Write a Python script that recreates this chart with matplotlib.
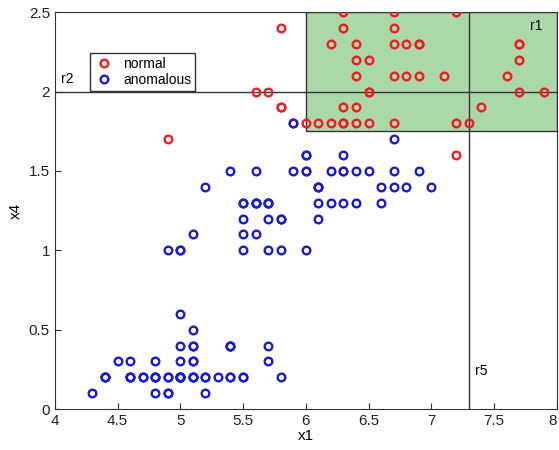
import matplotlib
matplotlib.use("Agg")
import matplotlib.pyplot as plt
from matplotlib.patches import Rectangle

# iris: sepal length (x1) vs petal width (x4)
# normal = virginica
normal_x1 = [6.3, 5.8, 7.1, 6.3, 6.5, 7.6, 4.9, 7.3, 6.7, 7.2, 6.5, 6.4, 6.8, 5.7, 5.8,
             6.4, 6.5, 7.7, 7.7, 6.0, 6.9, 5.6, 7.7, 6.3, 6.7, 7.2, 6.2, 6.1, 6.4, 7.2,
             7.4, 7.9, 6.4, 6.3, 6.1, 7.7, 6.3, 6.4, 6.0, 6.9, 6.7, 6.9, 5.8, 6.8, 6.7,
             6.7, 6.3, 6.5, 6.2, 5.9]
normal_x4 = [2.5, 1.9, 2.1, 1.8, 2.2, 2.1, 1.7, 1.8, 1.8, 2.5, 2.0, 1.9, 2.1, 2.0, 2.4,
             2.3, 1.8, 2.2, 2.3, 1.5, 2.3, 2.0, 2.0, 1.8, 2.1, 1.8, 1.8, 1.8, 2.1, 1.6,
             1.9, 2.0, 2.2, 1.5, 1.4, 2.3, 2.4, 1.8, 1.8, 2.1, 2.4, 2.3, 1.9, 2.3, 2.5,
             2.3, 1.9, 2.0, 2.3, 1.8]

# anomalous = setosa + versicolor
anom_x1 = [5.1, 4.9, 4.7, 4.6, 5.0, 5.4, 4.6, 5.0, 4.4, 4.9, 5.4, 4.8, 4.8, 4.3, 5.8,
           5.7, 5.4, 5.1, 5.7, 5.1, 5.4, 5.1, 4.6, 5.1, 4.8, 5.0, 5.0, 5.2, 5.2, 4.7,
           4.8, 5.4, 5.2, 5.5, 4.9, 5.0, 5.5, 4.9, 4.4, 5.1, 5.0, 4.5, 4.4, 5.0, 5.1,
           4.8, 5.1, 4.6, 5.3, 5.0,
           7.0, 6.4, 6.9, 5.5, 6.5, 5.7, 6.3, 4.9, 6.6, 5.2, 5.0, 5.9, 6.0, 6.1, 5.6,
           6.7, 5.6, 5.8, 6.2, 5.6, 5.9, 6.1, 6.3, 6.1, 6.4, 6.6, 6.8, 6.7, 6.0, 5.7,
           5.5, 5.5, 5.8, 6.0, 5.4, 6.0, 6.7, 6.3, 5.6, 5.5, 5.5, 6.1, 5.8, 5.0, 5.6,
           5.7, 5.7, 6.2, 5.1, 5.7]
anom_x4 = [0.2, 0.2, 0.2, 0.2, 0.2, 0.4, 0.3, 0.2, 0.2, 0.1, 0.2, 0.2, 0.1, 0.1, 0.2,
           0.4, 0.4, 0.3, 0.3, 0.3, 0.2, 0.4, 0.2, 0.5, 0.2, 0.2, 0.4, 0.2, 0.2, 0.2,
           0.2, 0.4, 0.1, 0.2, 0.2, 0.2, 0.2, 0.1, 0.2, 0.2, 0.3, 0.3, 0.2, 0.6, 0.4,
           0.3, 0.2, 0.2, 0.2, 0.2,
           1.4, 1.5, 1.5, 1.3, 1.5, 1.3, 1.6, 1.0, 1.3, 1.4, 1.0, 1.5, 1.0, 1.4, 1.3,
           1.4, 1.5, 1.0, 1.5, 1.1, 1.8, 1.3, 1.5, 1.2, 1.3, 1.4, 1.4, 1.7, 1.5, 1.0,
           1.1, 1.0, 1.2, 1.6, 1.5, 1.6, 1.5, 1.3, 1.3, 1.3, 1.2, 1.4, 1.2, 1.0, 1.3,
           1.2, 1.3, 1.3, 1.1, 1.3]

# rule boundaries
r1_x = (6.0, 8.0)
r1_y = (1.75, 2.5)
r2_y = 2.0
r5_x = 7.3

plt.rcParams['font.family'] = ['Liberation Sans', 'DejaVu Sans']

fig = plt.figure(figsize=(5.59, 4.5), dpi=100)
ax = fig.add_axes([0.098, 0.091, 0.898, 0.882])

ax.add_patch(Rectangle((r1_x[0], r1_y[0]), r1_x[1] - r1_x[0], r1_y[1] - r1_y[0],
                       facecolor='#aad8a9', edgecolor='#333333', lw=1.0, zorder=1))
ax.plot([4, 8], [r2_y, r2_y], color='#333333', lw=1.0, zorder=2)
ax.plot([r5_x, r5_x], [0, 2.5], color='#333333', lw=1.0, zorder=2)

ax.plot(normal_x1, normal_x4, 'o', ls='none', mfc='none', mec='#ee1c24',
        ms=5.5, mew=1.7, label='normal', zorder=3)
ax.plot(anom_x1, anom_x4, 'o', ls='none', mfc='none', mec='#1a1ad0',
        ms=5.5, mew=1.7, label='anomalous', zorder=4)

ax.text(7.79, 2.41, 'r1', fontsize=10, va='center')
ax.text(4.05, 2.08, 'r2', fontsize=10, va='center')
ax.text(7.35, 0.24, 'r5', fontsize=10, va='center')

ax.set_xlim(4, 8)
ax.set_ylim(0, 2.5)
ax.set_xticks([4, 4.5, 5, 5.5, 6, 6.5, 7, 7.5, 8])
ax.set_xticklabels(['4', '4.5', '5', '5.5', '6', '6.5', '7', '7.5', '8'])
ax.get_xticklabels()[-1].set_horizontalalignment('right')
ax.set_yticks([0, 0.5, 1, 1.5, 2, 2.5])
ax.set_yticklabels(['0', '0.5', '1', '1.5', '2', '2.5'])
ax.tick_params(direction='in', length=4, labelsize=11, colors='#333333',
               labelcolor='#222222')
for s in ax.spines.values():
    s.set_color('#333333')
ax.set_xlabel('x1', fontsize=11, labelpad=1)
ax.set_ylabel('x4', fontsize=11, labelpad=4)

ax.legend(loc='upper left', bbox_to_anchor=(0.056, 0.915), fontsize=10,
          frameon=True, fancybox=False, edgecolor='#333333', framealpha=1,
          handletextpad=0.6, borderpad=0.3, labelspacing=0.15, handlelength=1.5)

fig.savefig('out.png', dpi=100)
